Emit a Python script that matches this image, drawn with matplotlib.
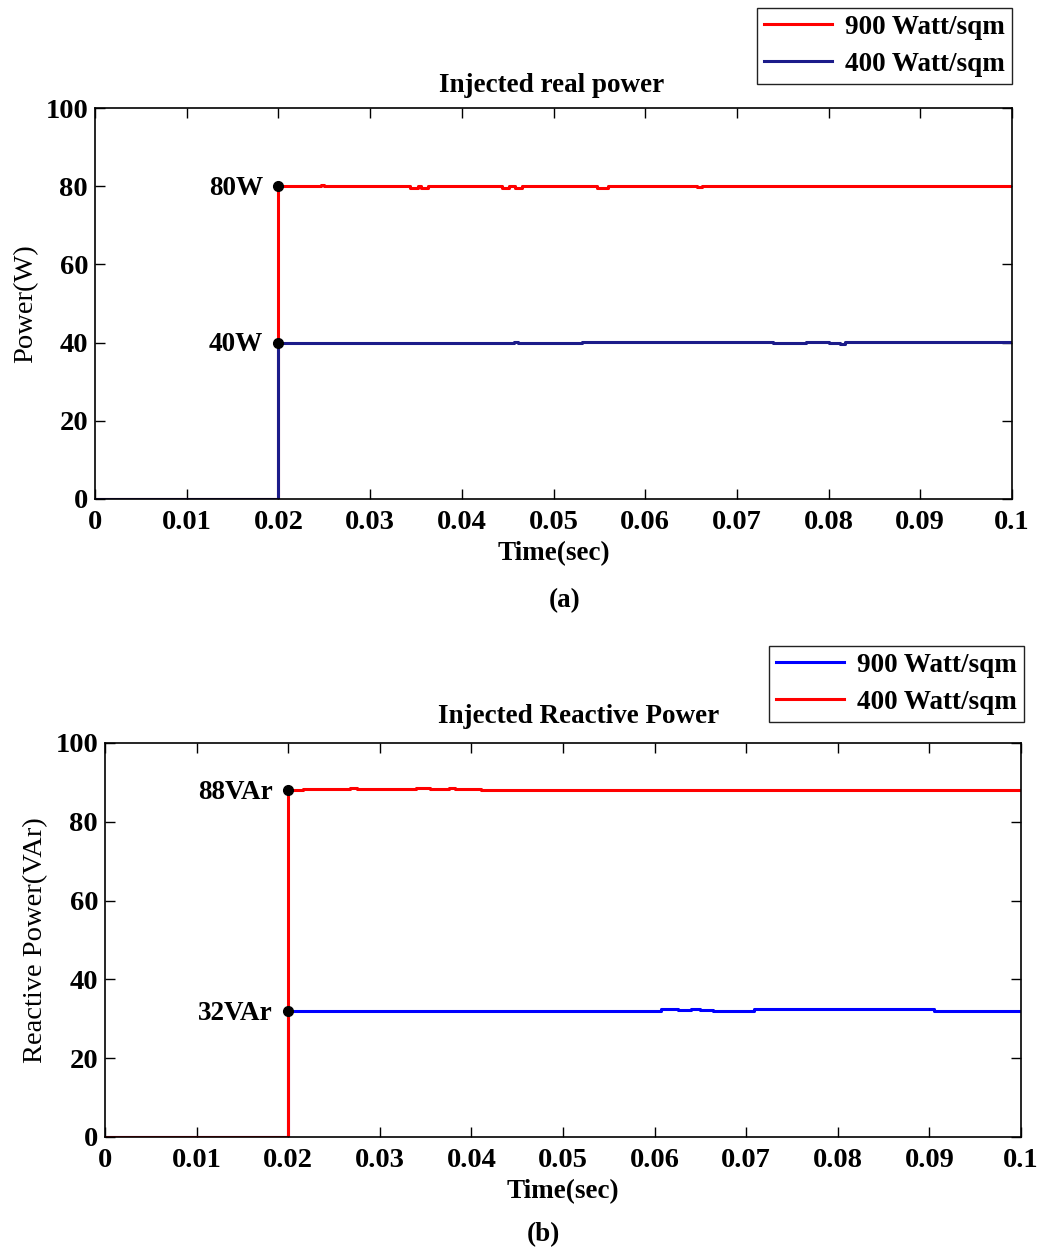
import matplotlib
matplotlib.use("Agg")
import matplotlib.pyplot as plt

# ---------------- data (step breakpoints) ----------------
# (a) Injected real power
real_900_t = [0.0, 0.02, 0.02, 0.0246, 0.0250, 0.0344, 0.0352, 0.0356, 0.0363, 0.0444, 0.0452, 0.0458, 0.0466, 0.0547, 0.0559, 0.0657, 0.0662, 0.1]
real_900_p = [0.0, 0.0, 80.0, 80.4, 80.0, 79.6, 80.0, 79.6, 80.0, 79.6, 80.0, 79.6, 80.0, 79.6, 80.0, 79.7, 80.0, 80.0]
real_400_t = [0.0, 0.02, 0.02, 0.0457, 0.0461, 0.0531, 0.0739, 0.0752, 0.0762, 0.0775, 0.0800, 0.0812, 0.0818, 0.1]
real_400_p = [0.0, 0.0, 39.8, 40.2, 39.8, 40.2, 39.8, 40.0, 39.8, 40.1, 39.9, 39.7, 40.2, 40.2]
real_marks_t = [0.02, 0.02]
real_marks_p = [80.0, 40.0]
real_marks_lbl = ["80W", "40W"]

# (b) Injected reactive power
react_900_t = [0.0, 0.02, 0.02, 0.0607, 0.0626, 0.0640, 0.0650, 0.0664, 0.0709, 0.0905, 0.1]
react_900_p = [0.0, 0.0, 32.1, 32.5, 32.2, 32.4, 32.2, 32.1, 32.5, 32.1, 32.1]
react_400_t = [0.0, 0.02, 0.02, 0.0216, 0.0233, 0.0267, 0.0275, 0.0340, 0.0355, 0.0375, 0.0382, 0.0410, 0.1]
react_400_p = [0.0, 0.0, 88.0, 88.3, 88.4, 88.6, 88.3, 88.6, 88.4, 88.6, 88.3, 88.1, 88.1]
react_marks_t = [0.02, 0.02]
react_marks_p = [88.0, 32.0]
react_marks_lbl = ["88VAr", "32VAr"]

x_ticks = [0, 0.01, 0.02, 0.03, 0.04, 0.05, 0.06, 0.07, 0.08, 0.09, 0.1]
x_tick_lbls = ["0", "0.01", "0.02", "0.03", "0.04", "0.05", "0.06", "0.07", "0.08", "0.09", "0.1"]
y_ticks = [0, 20, 40, 60, 80, 100]

# ---------------- styling ----------------
plt.rcParams['font.family'] = ['Liberation Serif', 'DejaVu Serif']
plt.rcParams['font.weight'] = 'bold'
FS = 19.5
TFS = 20.5
RED = '#ff0000'
NAVY = '#1c1c8a'
BLUE = '#0000ff'

W, H = 1037, 1247
fig = plt.figure(figsize=(W / 100, H / 100), dpi=100)

def px_axes(l, t, r, b):
    return fig.add_axes([l / W, 1 - b / H, (r - l) / W, (b - t) / H])

def style(ax):
    ax.set_xlim(0, 0.1)
    ax.set_ylim(0, 100)
    ax.set_xticks(x_ticks)
    ax.set_xticklabels(x_tick_lbls)
    ax.set_yticks(y_ticks)
    ax.tick_params(direction='in', top=True, right=True, length=7, width=1,
                   labelsize=TFS)
    ax.tick_params(axis='x', pad=8)
    ax.tick_params(axis='y', pad=5)
    for lab in ax.get_xticklabels() + ax.get_yticklabels():
        lab.set_fontweight('bold')
    for s in ax.spines.values():
        s.set_linewidth(1.2)

leg_kw = dict(fancybox=False, edgecolor='#222222', framealpha=1,
              prop={'weight': 'bold', 'size': FS}, handlelength=2.5, borderpad=0.25,
              labelspacing=0.45, handletextpad=0.5, borderaxespad=0)

# ---- (a)
ax1 = px_axes(95, 108, 1012, 499)
l1, = ax1.step(real_900_t, real_900_p, where='post', color=RED, lw=2.2, label='900 Watt/sqm')
l2, = ax1.step(real_400_t, real_400_p, where='post', color=NAVY, lw=2.2, label='400 Watt/sqm')
ax1.plot(real_marks_t, real_marks_p, 'o', color='black', ms=7, zorder=5)
for t, p, s in zip(real_marks_t, real_marks_p, real_marks_lbl):
    ax1.annotate(s, (t, p), xytext=(-11, -1.5), textcoords='offset points',
                 ha='right', va='center', fontsize=FS, fontweight='bold')
style(ax1)
ax1.set_xlabel('Time(sec)', fontsize=FS, fontweight='bold', labelpad=4)
ax1.set_ylabel('Power(W)', fontsize=20.5, fontweight='normal', labelpad=5)
fig.text(552 / W, 1 - 86 / H, 'Injected real power', ha='center', va='center',
         fontsize=FS, fontweight='bold')
fig.legend(handles=[l1, l2], loc='upper right', bbox_to_anchor=(1012 / W, 1 - 8 / H), **leg_kw)
fig.text(565 / W, 1 - 601 / H, '(a)', ha='center', va='center', fontsize=FS, fontweight='bold')

# ---- (b)
ax2 = px_axes(105, 743, 1021, 1137)
l3, = ax2.step(react_900_t, react_900_p, where='post', color=BLUE, lw=2.2, label='900 Watt/sqm')
l4, = ax2.step(react_400_t, react_400_p, where='post', color=RED, lw=2.2, label='400 Watt/sqm')
ax2.plot(react_marks_t, react_marks_p, 'o', color='black', ms=7, zorder=5)
for t, p, s in zip(react_marks_t, react_marks_p, react_marks_lbl):
    ax2.annotate(s, (t, p), xytext=(-11, -1.5), textcoords='offset points',
                 ha='right', va='center', fontsize=FS, fontweight='bold')
style(ax2)
ax2.set_xlabel('Time(sec)', fontsize=FS, fontweight='bold', labelpad=4)
ax2.set_ylabel('Reactive Power(VAr)', fontsize=20.5, fontweight='normal', labelpad=5)
fig.text(579 / W, 1 - 716 / H, 'Injected Reactive Power', ha='center', va='center',
         fontsize=FS, fontweight='bold')
fig.legend(handles=[l3, l4], loc='upper right', bbox_to_anchor=(1024 / W, 1 - 646 / H), **leg_kw)
fig.text(543 / W, 1 - 1235 / H, '(b)', ha='center', va='center', fontsize=FS, fontweight='bold')

fig.savefig('out.png', dpi=100)
